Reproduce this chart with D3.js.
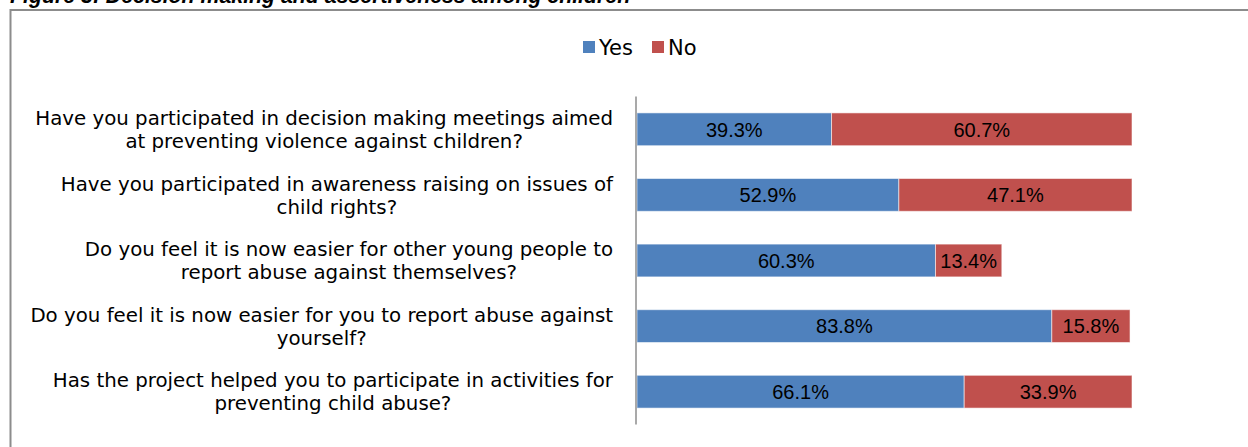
<!DOCTYPE html>
<html>
<head>
<meta charset="utf-8">
<script src="https://cdn.jsdelivr.net/npm/d3@7"></script>
<style>
  html, body { margin: 0; padding: 0; background: #fff; }
  svg { display: block; }
</style>
</head>
<body>
<svg id="chart" width="1248" height="447"></svg>
<script>
// Survey questions (line breaks as displayed on the category axis)
const questions = [
  "Have you participated in decision making meetings aimed\nat preventing violence against children?",
  "Have you participated in awareness raising on issues of\nchild rights?",
  "Do you feel it is now easier for other young people to\nreport abuse against themselves?",
  "Do you feel it is now easier for you to report abuse against\nyourself?",
  "Has the project helped you to participate in activities for\npreventing child abuse?"
];
const yesValues = [39.3, 52.9, 60.3, 83.8, 66.1];
const noValues  = [60.7, 47.1, 13.4, 15.8, 33.9];
const seriesNames = ["Yes", "No"];
const seriesColors = ["#4F81BD", "#C0504D"];
const title = "Figure 3: Decision making and assertiveness among children";

const svg = d3.select("#chart");
const labelFont = "'DejaVu Sans', Verdana, sans-serif";
const valueFont = "'Liberation Sans', Arial, sans-serif";

// Caption, partly above the page edge
svg.append("text")
  .attr("x", 10).attr("y", 3)
  .attr("font-family", valueFont)
  .attr("font-size", 21.3)
  .attr("font-weight", "bold")
  .attr("font-style", "italic")
  .attr("fill", "#000")
  .text(title);

// Chart frame
svg.append("path")
  .attr("d", "M10.5,447 L10.5,10 L1248,10")
  .attr("fill", "none")
  .attr("stroke", "#8c8c8c")
  .attr("stroke-width", 2);

const x = d3.scaleLinear().domain([0, 100]).range([637, 1132]);
const y = d3.scaleBand().domain(d3.range(questions.length))
  .range([96.5, 424.5]).paddingInner(0.5).paddingOuter(0.25);

const rows = questions.map((q, i) => ({ q, i, yes: yesValues[i], no: noValues[i] }));

// Stacked segments
const stack = d3.stack().keys(["yes", "no"]);
const layers = stack(rows);

const g = svg.append("g");
layers.forEach((layer, li) => {
  g.selectAll(null).data(layer).enter().append("rect")
    .attr("x", d => x(d[0]))
    .attr("y", d => y(d.data.i))
    .attr("width", d => x(d[1]) - x(d[0]))
    .attr("height", y.bandwidth())
    .attr("fill", seriesColors[li])
    .attr("stroke", "rgba(255,255,255,0.55)")
    .attr("stroke-width", 1);

  g.selectAll(null).data(layer).enter().append("text")
    .attr("x", d => (x(d[0]) + x(d[1])) / 2)
    .attr("y", d => y(d.data.i) + y.bandwidth() / 2)
    .attr("dy", "0.36em")
    .attr("text-anchor", "middle")
    .attr("font-family", valueFont)
    .attr("font-size", 20)
    .attr("fill", "#000")
    .text(d => (d[1] - d[0]).toFixed(1) + "%");
});

// Category axis line
svg.append("line")
  .attr("x1", 636).attr("x2", 636)
  .attr("y1", y.range()[0]).attr("y2", y.range()[1])
  .attr("stroke", "#8c8c8c")
  .attr("stroke-width", 1.5);

// Category labels: block right-aligned to the axis, lines centred within the block
const lineH = 23;
rows.forEach(r => {
  const lines = r.q.split("\n");
  const t = svg.append("text")
    .attr("font-family", labelFont)
    .attr("font-size", 19.8)
    .attr("fill", "#000")
    .attr("text-anchor", "middle");
  const cy = y(r.i) + y.bandwidth() / 2;
  const spans = lines.map((ln, k) => t.append("tspan")
    .attr("y", cy + (k - (lines.length - 1) / 2) * lineH)
    .attr("dy", "0.36em")
    .text(ln));
  const maxW = d3.max(spans, s => s.node().getComputedTextLength());
  spans.forEach(s => s.attr("x", 613 - maxW / 2));
});

// Legend
const legend = svg.append("g");
const legendItems = [{ name: seriesNames[0], color: seriesColors[0], x: 583 },
                     { name: seriesNames[1], color: seriesColors[1], x: 652 }];
legendItems.forEach(it => {
  legend.append("rect")
    .attr("x", it.x).attr("y", 41)
    .attr("width", 12).attr("height", 12)
    .attr("fill", it.color);
  legend.append("text")
    .attr("x", it.x + 16).attr("y", 47)
    .attr("dy", "0.36em")
    .attr("font-family", labelFont)
    .attr("font-size", 21)
    .attr("fill", "#000")
    .text(it.name);
});
</script>
</body>
</html>
